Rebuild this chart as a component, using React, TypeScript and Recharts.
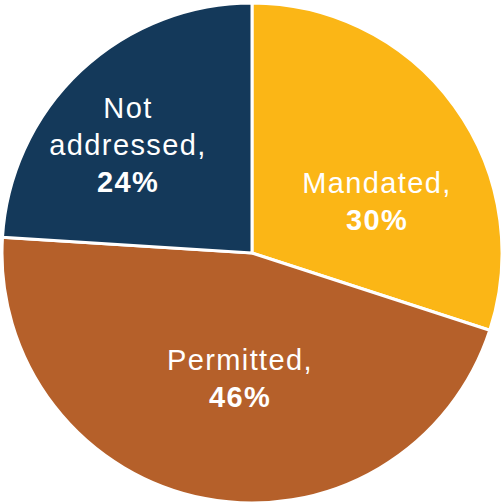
import React from "react";
import { PieChart, Pie, Cell } from "recharts";

const categories = ["Mandated", "Permitted", "Not addressed"];
const values = [30, 46, 24];
const colors = ["#FBB616", "#B5602A", "#14395A"];

const data = categories.map((name, i) => ({ name, value: values[i] }));

const labelPos = [
  { dx: 125, dy: -52 },
  { dx: -12, dy: 125 },
  { dx: -124, dy: -108 },
];

const splitName = (name: string) => {
  if (name === "Not addressed") return ["Not", "addressed,"];
  return [name + ","];
};

const renderLabel = (props: any) => {
  const { cx, cy, index, payload, percent } = props;
  const lines = splitName(payload?.name ?? categories[index]);
  const pct = `${Math.round((percent ?? 0) * 100)}%`;
  const all = [...lines, pct];
  const lh = 37;
  const x = cx + labelPos[index].dx;
  const yc = cy + labelPos[index].dy;
  const y0 = yc - ((all.length - 1) * lh) / 2;
  return (
    <text
      x={x}
      y={y0}
      fill="#FFFFFF"
      textAnchor="middle"
      dominantBaseline="central"
      fontFamily="'Liberation Sans', Arial, sans-serif"
      fontSize={29}
      letterSpacing={1.4}
    >
      {all.map((t, i) => (
        <tspan key={i} x={x} dy={i === 0 ? 0 : lh} fontWeight={i === all.length - 1 ? "bold" : "normal"}>
          {t}
        </tspan>
      ))}
    </text>
  );
};

export default function App() {
  return (
    <div style={{ position: "absolute", left: 0, top: 0 }}>
      <PieChart width={504} height={504} margin={{ top: 0, right: 0, bottom: 0, left: 0 }}>
        <Pie
          data={data}
          dataKey="value"
          cx={252}
          cy={253}
          outerRadius={250}
          startAngle={90}
          endAngle={-270}
          stroke="#FFFFFF"
          strokeWidth={3}
          labelLine={false}
          label={renderLabel}
          isAnimationActive={false}
        >
          {data.map((d, i) => (
            <Cell key={d.name} fill={colors[i]} />
          ))}
        </Pie>
      </PieChart>
    </div>
  );
}
